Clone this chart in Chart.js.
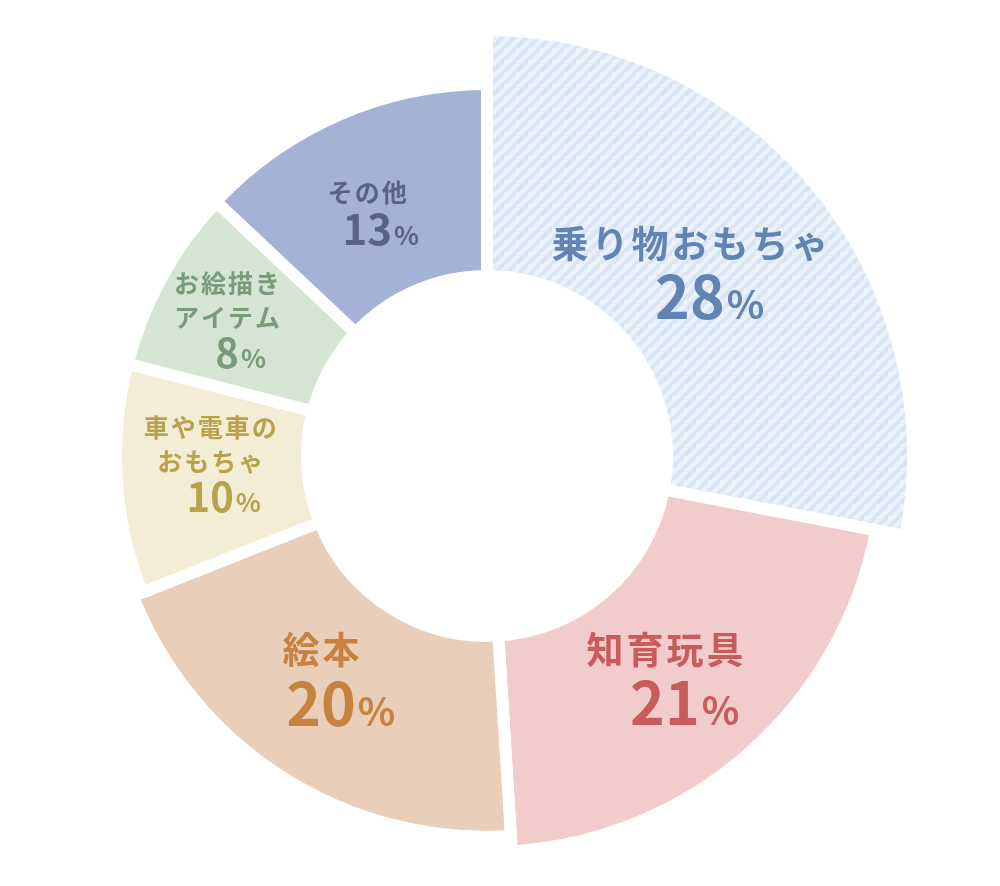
<!DOCTYPE html>
<html lang="ja">
<head>
<meta charset="utf-8">
<title>おもちゃの割合</title>
<script src="https://cdn.jsdelivr.net/npm/chart.js@4.4.1/dist/chart.umd.min.js"></script>
<style>
  html, body { margin: 0; padding: 0; background: #fff; }
  #wrap { width: 1000px; height: 886px; position: relative; }
</style>
</head>
<body>
<div id="wrap"><canvas id="toyChart"></canvas></div>
<script>
// データ
var kategori = ['乗り物おもちゃ', '知育玩具', '絵本', '車や電車のおもちゃ', 'お絵描きアイテム', 'その他'];
var persen = [28, 21, 20, 10, 8, 13];
// ラベルの改行
var labelBaris = [['乗り物おもちゃ'], ['知育玩具'], ['絵本'], ['車や電車の', 'おもちゃ'], ['お絵描き', 'アイテム'], ['その他']];

// 見た目
var warnaIsi = ['#d8e5f4', '#f2cbcb', '#e9cfba', '#f4edd5', '#d4e5d3', '#a3b2d5'];
var warnaTeks = ['#6184b2', '#c85c5c', '#c8823f', '#b8a24c', '#789c78', '#58628a'];
var skalaJari = [1, 0.930, 0.894, 0.871, 0.871, 0.873];      // 外側の半径 (最大に対する比)
var ukuranFont = [[37, 59, 39], [37, 59, 39], [37, 59, 39], [25, 40, 26], [25, 40, 26], [25, 42, 26]];
var spasiHuruf = [3, 3, 3, 2, 2, 2];
var geserSudut = [-2.6, 2.7, 4.3, 2.0, -1.1, -2.8];           // ラベル位置の角度補正 (度)
var jariLabel = [0.643, 0.668, 0.652, 0.650, 0.689, 0.637];  // ラベル位置の半径比
var FONT = '"Noto Sans CJK JP", "Noto Sans", sans-serif';

// 斜線パターン
function buatPola() {
    var p = 12;
    var c = document.createElement('canvas');
    c.width = p; c.height = p;
    var g = c.getContext('2d');
    g.fillStyle = '#eaf1fa';
    g.fillRect(0, 0, p, p);
    g.strokeStyle = '#d8e5f4';
    g.lineWidth = p / (2 * Math.SQRT2);
    for (var k = 0; k <= 2; k++) {
        g.beginPath();
        g.moveTo(0, k * p);
        g.lineTo(k * p, 0);
        g.stroke();
    }
    return document.getElementById('toyChart').getContext('2d').createPattern(c, 'repeat');
}
warnaIsi[0] = buatPola();

var radiusPlugin = {
    id: 'radiusPerSlice',
    afterDatasetUpdate: function (chart, args) {
        var meta = args.meta;
        var r0 = meta.controller.outerRadius;
        meta.data.forEach(function (arc, i) {
            arc.outerRadius = r0 * skalaJari[i];
        });
    }
};

var labelPlugin = {
    id: 'labelDalam',
    afterDatasetsDraw: function (chart) {
        var ctx = chart.ctx;
        var meta = chart.getDatasetMeta(0);
        var r0 = meta.controller.outerRadius;
        meta.data.forEach(function (arc, i) {
            var sudut = (arc.startAngle + arc.endAngle) / 2 + geserSudut[i] * Math.PI / 180;
            var cx = arc.x + Math.cos(sudut) * r0 * jariLabel[i];
            var cy = arc.y + Math.sin(sudut) * r0 * jariLabel[i];
            var f = ukuranFont[i];
            var baris = labelBaris[i];
            var lh = f[0] * 1.36;
            var capAngka = f[1] * 0.73;
            var jarak = f[0] * 1.45;
            var tinggi = f[0] / 2 + (baris.length - 1) * lh + jarak + capAngka / 2;
            var yAtas = cy - tinggi / 2 + f[0] / 2;

            ctx.save();
            ctx.fillStyle = warnaTeks[i];
            ctx.textAlign = 'center';
            ctx.textBaseline = 'middle';
            ctx.font = 'bold ' + f[0] + 'px ' + FONT;
            ctx.letterSpacing = spasiHuruf[i] + 'px';
            baris.forEach(function (t, j) {
                ctx.fillText(t, cx + spasiHuruf[i] / 2, yAtas + j * lh);
            });
            ctx.letterSpacing = '0px';
            var yAngka = yAtas + (baris.length - 1) * lh + jarak + capAngka / 2;
            ctx.textBaseline = 'alphabetic';
            ctx.font = 'bold ' + f[1] + 'px ' + FONT;
            var angka = String(persen[i]);
            var w = ctx.measureText(angka).width;
            ctx.fillText(angka, cx, yAngka);
            ctx.textAlign = 'left';
            ctx.font = 'bold ' + f[2] + 'px ' + FONT;
            ctx.fillText('%', cx + w / 2 + 2, yAngka);
            ctx.restore();
        });
    }
};

var toyChart = new Chart(document.getElementById('toyChart'), {
    type: 'doughnut',
    data: {
        labels: kategori,
        datasets: [{
            data: persen,
            backgroundColor: warnaIsi,
            borderColor: '#ffffff',
            borderWidth: 12
        }]
    },
    options: {
        responsive: true,
        maintainAspectRatio: false,
        animation: false,
        radius: 426,
        cutout: '42.25%',
        layout: { padding: { left: 0, right: 26, top: 26, bottom: 0 } },
        plugins: {
            legend: { display: false },
            tooltip: { enabled: false }
        }
    },
    plugins: [radiusPlugin, labelPlugin]
});
</script>
</body>
</html>
